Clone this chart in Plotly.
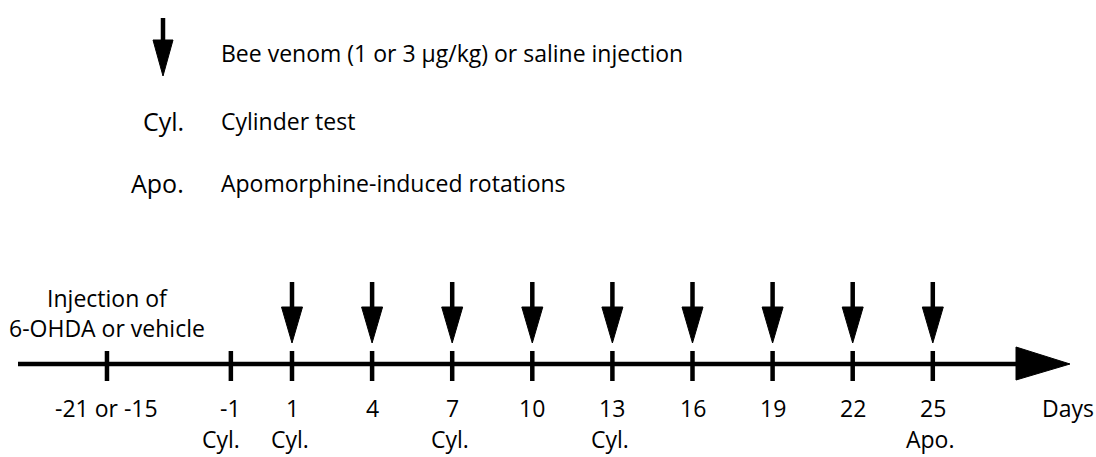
import plotly.graph_objects as go

# ---- data ----
tick_labels = ["-21 or -15", "-1", "1", "4", "7", "10", "13", "16", "19", "22", "25"]
# schematic position of each tick along the (not-to-scale) timeline, in days
tick_pos = [-5.93, -1.29, 1, 4, 7, 10, 13, 16, 19, 22, 25]
injection_days = [1, 4, 7, 10, 13, 16, 19, 22, 25]
test_pos = [-1.29, 1, 7, 13, 25]
test_names = ["Cyl.", "Cyl.", "Cyl.", "Cyl.", "Apo."]
legend_keys = ["Cyl.", "Apo."]
legend_texts = ["Bee venom (1 or 3 \u00b5g/kg) or saline injection", "Cylinder test", "Apomorphine-induced rotations"]
surgery_text = "Injection of<br>6-OHDA or vehicle"

# ---- layout constants (pixel-like y, day-like x) ----
W, H = 1096, 457
px_per_day = 26.7
x0 = 1 - 292 / px_per_day
x1 = x0 + W / px_per_day
FONT = dict(family="Open Sans", size=23, color="black")
LINE_Y = 364
AX_START, HEAD_START, HEAD_END = x0 + 18 / px_per_day, x0 + 1016 / px_per_day, x0 + 1070 / px_per_day
HALF_W = 10.5 / px_per_day

fig = go.Figure()

# main axis line
fig.add_trace(go.Scatter(x=[AX_START, HEAD_START + 0.2], y=[LINE_Y, LINE_Y], mode="lines",
                         line=dict(color="black", width=4.5), hoverinfo="skip"))
# big arrowhead
fig.add_trace(go.Scatter(x=[HEAD_START, HEAD_END, HEAD_START, HEAD_START], y=[347, LINE_Y, 380, 347],
                         mode="lines", fill="toself", fillcolor="black", line=dict(color="black", width=1),
                         hoverinfo="skip"))
# ticks
for p in tick_pos:
    fig.add_trace(go.Scatter(x=[p, p], y=[351, 381], mode="lines",
                             line=dict(color="black", width=4.5), hoverinfo="skip"))

def down_arrow(xc, y_top, y_head, y_tip, half_w):
    fig.add_trace(go.Scatter(x=[xc, xc], y=[y_top, y_head + 1], mode="lines",
                             line=dict(color="black", width=4.5), hoverinfo="skip"))
    fig.add_trace(go.Scatter(x=[xc - half_w, xc + half_w, xc, xc - half_w],
                             y=[y_head, y_head, y_tip, y_head], mode="lines", fill="toself",
                             fillcolor="black", line=dict(color="black", width=1), hoverinfo="skip"))

for d in injection_days:
    down_arrow(d, 282, 307, 343, HALF_W)

# legend arrow
leg_x = x0 + 163 / px_per_day
down_arrow(leg_x, 18, 40, 76, 10 / px_per_day)

ann = []
# tick labels
for p, t in zip(tick_pos, tick_labels):
    ann.append(dict(x=p, y=408, text=t, showarrow=False, xanchor="center", yanchor="middle", font=FONT))
ann.append(dict(x=x0 + 1096 / px_per_day, y=408, text="Days", showarrow=False, xanchor="right",
                yanchor="middle", font=FONT))
for i, (p, t) in enumerate(zip(test_pos, test_names)):
    ann.append(dict(x=p, y=456.5, text=t, showarrow=False, xanchor="center", yanchor="bottom",
                    xshift=-10 if i == 0 else -2, font=FONT))
ann.append(dict(x=tick_pos[0], y=313, text=surgery_text, showarrow=False, xanchor="center",
                yanchor="middle", font=FONT))
# legend texts
leg_text_x = x0 + 219 / px_per_day
leg_key_x = x0 + 186 / px_per_day
for y, t in zip([53, 121, 183], legend_texts):
    ann.append(dict(x=leg_text_x, y=y, text=t, showarrow=False, xanchor="left", yanchor="middle", font=FONT))
for y, k in zip([121, 183], legend_keys):
    ann.append(dict(x=leg_key_x, y=y, text=k, showarrow=False, xanchor="right", yanchor="middle",
                    font=dict(family="Open Sans", size=25, color="black")))

fig.update_layout(
    width=W, height=H, margin=dict(l=0, r=0, t=0, b=0),
    paper_bgcolor="white", plot_bgcolor="white", showlegend=False,
    xaxis=dict(range=[x0, x1], visible=False, fixedrange=True),
    yaxis=dict(range=[H, 0], visible=False, fixedrange=True),
    annotations=ann,
)
fig.write_html("out.html", config={"displayModeBar": False},
               post_script="document.body.style.margin='0';document.body.style.overflow='hidden';")
